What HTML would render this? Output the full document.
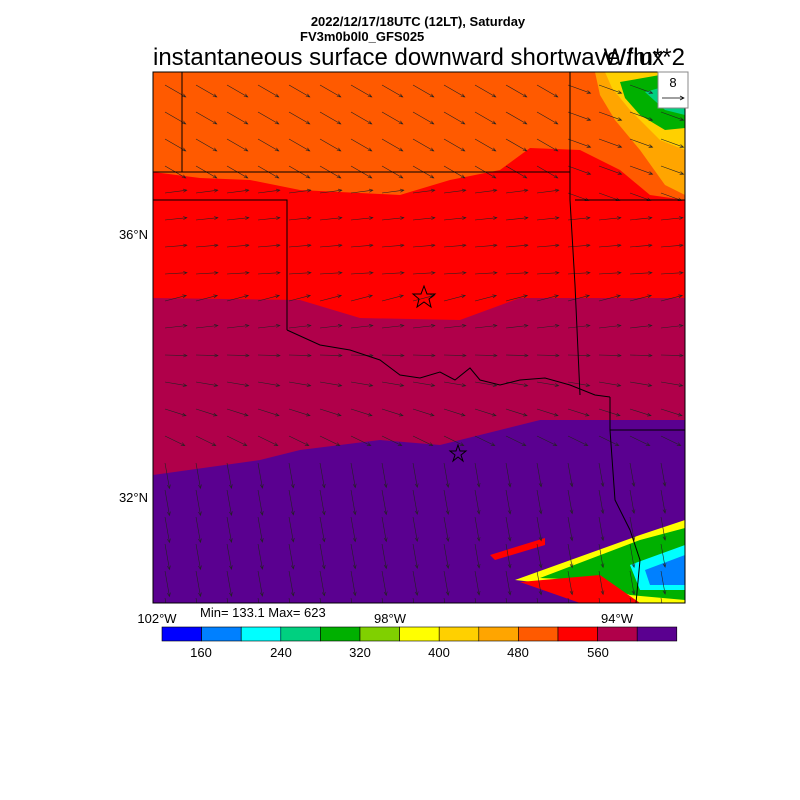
<!DOCTYPE html>
<html><head><style>
body{margin:0;background:#fff;width:800px;height:800px;overflow:hidden;font-family:"Liberation Sans",sans-serif}
svg{position:absolute;left:0;top:0}
</style></head><body>
<svg width="800" height="800" viewBox="0 0 800 800" font-family="Liberation Sans, sans-serif">
<defs><clipPath id="c"><rect x="153" y="72" width="532" height="531"/></clipPath></defs>
<text x="418" y="26" font-size="13" font-weight="bold" text-anchor="middle">2022/12/17/18UTC (12LT), Saturday</text>
<text x="300" y="41" font-size="13" font-weight="bold">FV3m0b0l0_GFS025</text>
<text x="153" y="65" font-size="24">instantaneous surface downward shortwave flux</text>
<text x="685" y="65" font-size="24" text-anchor="end">W/m**2</text>
<g clip-path="url(#c)">
<rect x="153" y="72" width="532" height="531" fill="#5a0090"/>
<path d="M153,72 H685 V420 H560 L540,420 L440,445 L380,440 L300,450 L260,460 L153,475 Z" fill="#b0004a"/>
<path d="M153,72 H685 V298 H520 L460,320 L360,318 L300,300 L153,298 Z" fill="#ff0000"/>
<path d="M153,72 H685 V200 L650,195 L620,170 L580,150 L530,148 L500,170 L450,180 L400,195 L300,190 L250,180 L200,178 L153,172 Z" fill="#ff5a00"/>
<path d="M595,72 H685 V195 L665,185 L640,150 L615,120 L600,95 Z" fill="#ffa500"/>
<path d="M605,72 H685 V150 L660,140 L630,110 L612,88 Z" fill="#ffd000"/>
<path d="M620,82 L660,75 L685,78 V128 L665,130 L640,115 L625,98 Z" fill="#00b000"/>
<path d="M645,92 L670,85 L685,88 V115 L665,110 Z" fill="#00d080"/>
<path d="M515,580 L640,535 L685,520 V603 L600,603 L560,585 Z" fill="#ffff00"/>
<path d="M540,578 L640,540 L685,528 V600 L630,595 L590,580 Z" fill="#00b000"/>
<path d="M630,565 L685,545 V590 L640,590 Z" fill="#00ffff"/>
<path d="M645,570 L685,555 V585 L650,585 Z" fill="#0080ff"/>
<path d="M490,555 L545,538 L545,545 L495,560 Z" fill="#ff0000"/>
<path d="M520,582 L600,575 L640,603 L580,603 Z" fill="#ff0000"/>
<g id="arr" stroke="#222" stroke-width="0.6" fill="none"></g>
<g stroke="#000" stroke-width="1" fill="none">
<path d="M182,72 V172"/><path d="M153,172 H570"/><path d="M570,72 V200 L575,285 L580,395"/>
<path d="M153,200 H287 V330"/><path d="M575,200 H685"/>
<path d="M287,330 L320,345 L350,350 L380,360 L400,375 L420,378 L440,372 L455,380 L470,368 L480,380 L500,385 L520,380 L545,378 L570,385 L595,395 L610,397"/>
<path d="M610,397 V430 L615,500 L630,530 L640,560 L636,603"/><path d="M610,430 H685"/>
</g>
<g fill="none" stroke="#000"><path d="M424,286 l3,8 h8 l-6,5 l2,8 l-7,-5 l-7,5 l2,-8 l-6,-5 h8z"/><path d="M458,445 l2,6 h6 l-5,4 l2,6 l-5,-4 l-5,4 l2,-6 l-5,-4 h6z"/></g>
</g>
<rect x="153" y="72" width="532" height="531" fill="none" stroke="#000"/>
<rect x="658" y="72" width="30" height="36" fill="#fff" stroke="#888"/>
<text x="673" y="87" font-size="13" text-anchor="middle">8</text>
<path d="M662,98 H684 M680,96 L684,98 L680,100" stroke="#000" stroke-width="0.7" fill="none"/>
<g font-size="13">
<text x="148" y="239" text-anchor="end">36°N</text><text x="148" y="502" text-anchor="end">32°N</text>
<text x="157" y="623" text-anchor="middle">102°W</text><text x="390" y="623" text-anchor="middle">98°W</text><text x="617" y="623" text-anchor="middle">94°W</text>
<text x="200" y="617">Min= 133.1 Max= 623</text>
</g>
<g id="cb"></g>
<g font-size="13" text-anchor="middle">
<text x="201" y="657">160</text><text x="281" y="657">240</text><text x="360" y="657">320</text><text x="439" y="657">400</text><text x="518" y="657">480</text><text x="598" y="657">560</text>
</g>
</svg>
<script>
var cols=["#0000ff","#0080ff","#00ffff","#00d080","#00b000","#80d000","#ffff00","#ffd000","#ffa500","#ff5a00","#ff0000","#b0004a","#5a0090"];
var cb=document.getElementById("cb"),s="";
for(var i=0;i<13;i++){s+='<rect x="'+(162+i*39.6)+'" y="627" width="39.6" height="14" fill="'+cols[i]+'" stroke="#000" stroke-width="0.6"/>';}
cb.innerHTML=s;
var g=document.getElementById("arr"),a="";
for(var y=85;y<603;y+=27){for(var x=165;x<685;x+=31){
var ang,len;
if(y<180){ang=30;len=24}else if(y<300){ang=-8+(y-180)*0.05;len=22}else if(y<440){ang=-15+(y-300)*0.3;len=22}else{ang=80;len=26-(x-153)*0.005}
if(x>560&&y<200)ang=20;
var r=ang*Math.PI/180,dx=Math.cos(r)*len,dy=Math.sin(r)*len;
var x2=x+dx,y2=y+dy;
var h=4,b1=r+Math.PI-0.4,b2=r+Math.PI+0.4;
a+='<path d="M'+x+','+y+' L'+x2.toFixed(1)+','+y2.toFixed(1)+' M'+(x2+h*Math.cos(b1)).toFixed(1)+','+(y2+h*Math.sin(b1)).toFixed(1)+' L'+x2.toFixed(1)+','+y2.toFixed(1)+' L'+(x2+h*Math.cos(b2)).toFixed(1)+','+(y2+h*Math.sin(b2)).toFixed(1)+'"/>';
}}
g.innerHTML=a;
</script>
</body></html>
